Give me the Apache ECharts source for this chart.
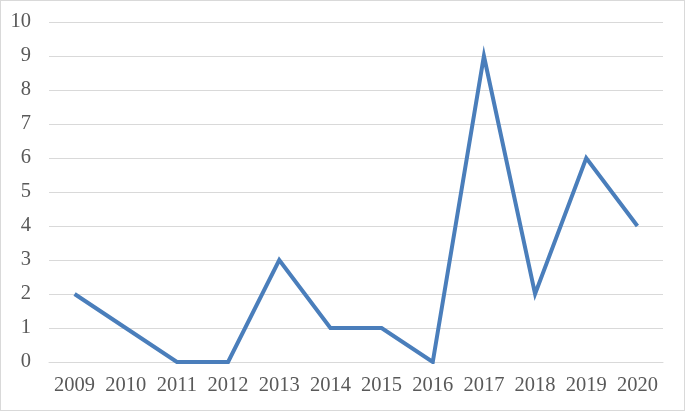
<!DOCTYPE html>
<html>
<head>
<meta charset="utf-8">
<script src="https://cdn.jsdelivr.net/npm/echarts@6/dist/echarts.min.js"></script>
<style>
  html, body { margin: 0; padding: 0; background: #fff; }
  #chart { width: 685px; height: 411px; box-sizing: border-box; border: 1px solid #d9d9d9; }
</style>
</head>
<body>
<div id="chart"></div>
<script>
// years on the x axis
const years = ['2009', '2010', '2011', '2012', '2013', '2014', '2015', '2016', '2017', '2018', '2019', '2020'];
// counts per year
const counts = [2, 1, 0, 0, 3, 1, 1, 0, 9, 2, 6, 4];

const chart = echarts.init(document.getElementById('chart'));

const labelFont = {
    fontFamily: 'Liberation Serif, Times New Roman, serif',
    fontSize: 20.5,
    color: '#595959',
};

chart.setOption({
    animation: false,
    grid: { left: 48, right: 21, top: 21, bottom: 48 },
    xAxis: {
        type: 'category',
        data: years,
        boundaryGap: true,
        axisLine: { show: true, lineStyle: { color: '#d9d9d9', width: 1 } },
        axisTick: { show: false },
        axisLabel: Object.assign({ margin: 13, interval: 0 }, labelFont),
    },
    yAxis: {
        type: 'value',
        min: 0,
        max: 10,
        interval: 1,
        axisLine: { show: false },
        axisTick: { show: false },
        axisLabel: Object.assign({ margin: 18 }, labelFont),
        splitLine: { lineStyle: { color: '#d9d9d9', width: 1 } },
    },
    series: [
        {
            type: 'line',
            data: counts,
            symbol: 'none',
            lineStyle: { color: '#4a7ebb', width: 4, join: 'miter' },
        },
    ],
});
</script>
</body>
</html>
